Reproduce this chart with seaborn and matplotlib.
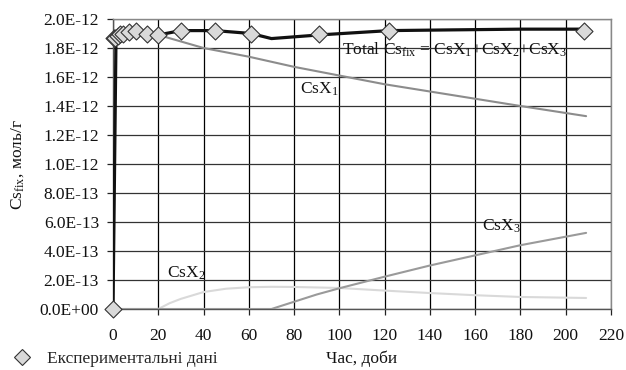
import numpy as np
import pandas as pd
import matplotlib
matplotlib.use("Agg")
import matplotlib.pyplot as plt
import seaborn as sns
from matplotlib.ticker import FuncFormatter
from matplotlib.lines import Line2D

sns.set_theme(style="white")
plt.rcParams['font.family'] = ['Liberation Serif', 'DejaVu Serif']
plt.rcParams['mathtext.fontset'] = 'custom'
plt.rcParams['mathtext.rm'] = 'Liberation Serif'
plt.rcParams['mathtext.it'] = 'Liberation Serif:italic'

# Experimental data (days, mol/g)
exp_x = [0, 0.3, 1, 2, 3, 4.5, 7, 10, 15, 20, 30, 45, 61, 91, 122, 208]
exp_y = [0.0, 1.87e-12, 1.87e-12, 1.88e-12, 1.90e-12, 1.90e-12, 1.91e-12, 1.92e-12,
         1.90e-12, 1.89e-12, 1.92e-12, 1.92e-12, 1.90e-12, 1.90e-12, 1.92e-12, 1.92e-12]

# Model: total
tot_x = [0, 1.3, 3, 7, 10, 20, 30, 45, 61, 70, 91, 122, 150, 180, 209]
tot_y = [0.0, 1.83e-12, 1.87e-12, 1.89e-12, 1.89e-12, 1.89e-12, 1.92e-12, 1.92e-12,
         1.90e-12, 1.865e-12, 1.89e-12, 1.92e-12, 1.925e-12, 1.93e-12, 1.93e-12]

# CsX1
x1_x = [20, 40, 60, 80, 100, 120, 140, 160, 180, 209]
x1_y = [1.89e-12, 1.80e-12, 1.74e-12, 1.67e-12, 1.61e-12, 1.55e-12, 1.50e-12,
        1.45e-12, 1.40e-12, 1.33e-12]

# CsX2
x2_x = [0, 20, 25, 30, 40, 50, 60, 70, 80, 100, 120, 140, 160, 180, 209]
x2_y = [0.0, 0.0, 0.04e-12, 0.07e-12, 0.117e-12, 0.14e-12, 0.15e-12, 0.153e-12,
        0.152e-12, 0.145e-12, 0.127e-12, 0.11e-12, 0.095e-12, 0.083e-12, 0.076e-12]

# CsX3
x3_x = [0, 70, 80, 90, 100, 120, 140, 160, 180, 209]
x3_y = [0.0, 0.0, 0.05e-12, 0.10e-12, 0.143e-12, 0.223e-12, 0.30e-12, 0.37e-12,
        0.44e-12, 0.525e-12]

x_ticks = [0, 20, 40, 60, 80, 100, 120, 140, 160, 180, 200, 220]
y_ticks = [0.0, 0.2e-12, 0.4e-12, 0.6e-12, 0.8e-12, 1.0e-12, 1.2e-12, 1.4e-12,
           1.6e-12, 1.8e-12, 2.0e-12]

fig = plt.figure(figsize=(6.26, 3.70), dpi=100)
ax = fig.add_axes([113/626, 1-309/370, 498/626, 290/370])

sns.lineplot(x=x2_x, y=x2_y, ax=ax, color='#d9d9d9', lw=1.5, zorder=3)
sns.lineplot(x=x3_x, y=x3_y, ax=ax, color='#9a9a9a', lw=1.5, zorder=3)
sns.lineplot(x=x1_x, y=x1_y, ax=ax, color='#8c8c8c', lw=1.5, zorder=3)
sns.lineplot(x=tot_x, y=tot_y, ax=ax, color='#111111', lw=2.3, zorder=4)
sns.scatterplot(x=exp_x, y=exp_y, ax=ax, marker='D', s=75, color='#d9d9d9',
                edgecolor='#333333', linewidth=0.8, zorder=5, clip_on=False)

ax.set_xlim(0, 220)
ax.set_ylim(0, 2.0e-12)
ax.set_xticks(x_ticks)
ax.set_yticks(y_ticks)
ax.yaxis.set_major_formatter(FuncFormatter(lambda v, p: f"{v:.1E}"))
ax.grid(True, axis='x', color='#000000', lw=0.9)
ax.grid(True, axis='y', color='#333333', lw=0.9)
ax.set_axisbelow(True)
for s in ['top', 'right']:
    ax.spines[s].set_color('#888888')
    ax.spines[s].set_linewidth(1.0)
for s in ['left', 'bottom']:
    ax.spines[s].set_color('#555555')
    ax.spines[s].set_linewidth(1.0)
ax.tick_params(axis='both', which='major', direction='out', length=4, width=0.9,
               colors='#222222', labelsize=12.5, labelcolor='#111111',
               bottom=True, left=True)
ax.tick_params(axis='x', pad=10)
ax.tick_params(axis='y', pad=6)
ax.set_xlabel('')
ax.set_ylabel('')

fs = 12.5
fig.text(18/626, 1-165/370, 'Cs$_{\\mathrm{fix}}$, моль/г', rotation=90,
         ha='center', va='center', fontsize=fs, color='#111111')
fig.text(362/626, 1-359/370, 'Час, доби', ha='center', va='center',
         fontsize=fs, color='#111111')

ax.text(101, 1.785e-12, 'Total Cs$_{\\mathrm{fix}}$ = CsX$_1$+CsX$_2$+CsX$_3$',
        ha='left', va='center', fontsize=fs, color='#111111', zorder=6)
ax.text(82.6, 1.517e-12, 'CsX$_1$', ha='left', va='center', fontsize=fs, color='#111111')
ax.text(23.9, 0.248e-12, 'CsX$_2$', ha='left', va='center', fontsize=fs, color='#111111')
ax.text(163, 0.572e-12, 'CsX$_3$', ha='left', va='center', fontsize=fs, color='#111111')

handle = Line2D([], [], marker='D', linestyle='none', markersize=8.5,
                markerfacecolor='#d9d9d9', markeredgecolor='#333333', markeredgewidth=0.8)
fig.legend([handle], ['Експериментальні дані'], loc='center left',
           bbox_to_anchor=(12/626, 1-359/370), frameon=False, fontsize=fs,
           handletextpad=0.8, borderaxespad=0, borderpad=0, handlelength=1.2)

fig.savefig('out.png', dpi=100)
